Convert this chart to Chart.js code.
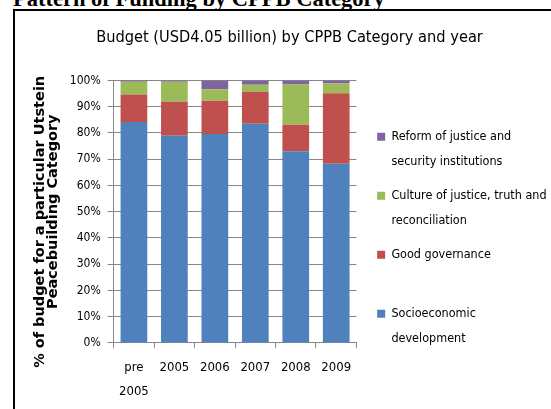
<!DOCTYPE html>
<html>
<head>
<meta charset="utf-8">
<title>Budget by CPPB Category and year</title>
<script src="https://cdn.jsdelivr.net/npm/chart.js@4"></script>
<style>
  body { margin: 0; background: #fff; width: 551px; height: 409px; overflow: hidden; position: relative; }
  #heading { position: absolute; left: 13px; top: -12px; font: bold 22.5px/22px "Liberation Serif", "Times New Roman", serif; color: #000; white-space: nowrap; }
  #frame { position: absolute; left: 13px; top: 9px; width: 600px; height: 500px; border-left: 2px solid #000; border-top: 2px solid #000; }
  #budgetChart { position: absolute; left: 0; top: 0; }
</style>
</head>
<body>
<div id="heading">Pattern of Funding by CPPB Category</div>
<div id="frame"></div>
<canvas id="budgetChart" width="551" height="409"></canvas>
<script>
const years = [["pre", "2005"], "2005", "2006", "2007", "2008", "2009"];

// share of budget (%) per category
const socioeconomic = [84.2, 78.9, 79.6, 83.5, 73.0, 68.3];
const governance = [10.5, 13.0, 12.7, 12.2, 10.1, 26.8];
const cultureOfJustice = [4.8, 7.6, 4.4, 2.7, 15.4, 3.8];
const reformJustice = [0.5, 0.5, 3.3, 1.6, 1.5, 1.1];

const legendLines = [
  ["Socioeconomic", "development"],
  ["Good governance", ""],
  ["Culture of justice, truth and", "reconciliation"],
  ["Reform of justice and", "security institutions"]
];

const font = "'DejaVu Sans Condensed', 'Liberation Sans Narrow', sans-serif";
const gridGray = "#868686";

document.addEventListener("DOMContentLoaded", () => {
  const ctx = document.getElementById("budgetChart").getContext("2d");

  new Chart(ctx, {
    type: "bar",
    data: {
      labels: years,
      datasets: [
        { label: "Socioeconomic development", data: socioeconomic, backgroundColor: "#4F81BD" },
        { label: "Good governance", data: governance, backgroundColor: "#C0504D" },
        { label: "Culture of justice, truth and reconciliation", data: cultureOfJustice, backgroundColor: "#9BBB59" },
        { label: "Reform of justice and security institutions", data: reformJustice, backgroundColor: "#8064A2" }
      ]
    },
    options: {
      responsive: false,
      animation: false,
      datasets: {
        bar: { categoryPercentage: 1, barPercentage: 0.66, borderWidth: 0 }
      },
      layout: { padding: { left: 22.4, right: -5.6, top: 0, bottom: -3 } },
      plugins: {
        title: {
          display: true,
          text: "Budget (USD4.05 billion) by CPPB Category and year",
          color: "#000",
          font: { family: font, size: 16.25, weight: "normal", lineHeight: 1.2 },
          padding: { top: 28.2, bottom: 32.8 }
        },
        legend: {
          position: "right",
          align: "start",
          reverse: true,
          maxWidth: 300,
          title: { display: true, text: " ", font: { size: 12, lineHeight: 1.2 }, padding: { top: 0, bottom: 106.1 } },
          labels: {
            color: "#000",
            boxWidth: 8,
            boxHeight: 8,
            padding: 10,
            font: { family: font, size: 12.5, lineHeight: 1.96 },
            generateLabels(chart) {
              const items = Chart.defaults.plugins.legend.labels.generateLabels(chart);
              items.forEach(it => { it.text = legendLines[it.datasetIndex]; it.lineWidth = 0; });
              return items;
            }
          }
        },
        tooltip: { enabled: false }
      },
      scales: {
        x: {
          stacked: true,
          grid: { drawOnChartArea: false, offset: true, tickLength: 5, color: gridGray },
          border: { color: gridGray },
          ticks: { color: "#000", maxRotation: 0, padding: 8, font: { family: font, size: 13, lineHeight: 1.85 } }
        },
        y: {
          stacked: true,
          min: 0,
          max: 100,
          grid: { color: gridGray, tickLength: 6 },
          border: { color: gridGray },
          ticks: {
            stepSize: 10,
            color: "#000",
            padding: 7,
            font: { family: font, size: 12 },
            callback: v => v + "%"
          },
          title: {
            display: true,
            text: ["% of budget for a particular Utstein    ", "Peacebuilding Category"],
            color: "#000",
            font: { family: "'DejaVu Sans', sans-serif", size: 14.5, weight: "bold", lineHeight: 0.93 },
            padding: { top: 10.85, bottom: 0 }
          },
          afterFit(scale) { scale.width = 91.3; }
        },
        gap: {
          type: "linear",
          axis: "y",
          position: "right",
          display: true,
          grid: { display: false },
          border: { display: false },
          ticks: { display: false },
          afterFit(scale) { scale.width = 10.7; }
        }
      }
    }
  });
});
</script>
</body>
</html>
